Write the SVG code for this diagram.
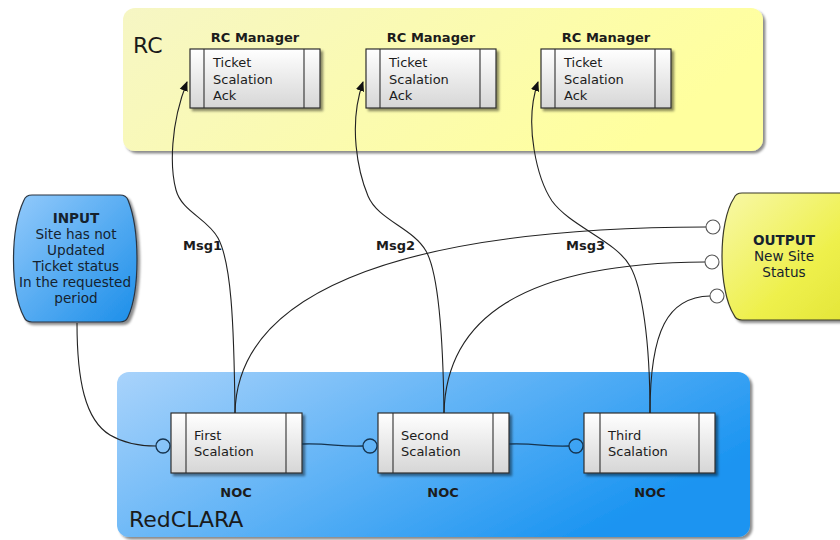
<svg xmlns="http://www.w3.org/2000/svg" width="840" height="540" viewBox="0 0 840 540">
  <defs>
    <linearGradient id="gRC" x1="0" y1="0" x2="1" y2="0.3">
      <stop offset="0" stop-color="#f6f6c4"/>
      <stop offset="1" stop-color="#ffff9e"/>
    </linearGradient>
    <linearGradient id="gNet" x1="0" y1="0" x2="1" y2="0.5">
      <stop offset="0" stop-color="#a9d3fb"/>
      <stop offset="1" stop-color="#1a94f1"/>
    </linearGradient>
    <linearGradient id="gIn" x1="0" y1="0" x2="1" y2="1">
      <stop offset="0" stop-color="#93cafb"/>
      <stop offset="1" stop-color="#1b8ee9"/>
    </linearGradient>
    <linearGradient id="gOut" x1="0" y1="0" x2="1" y2="1">
      <stop offset="0" stop-color="#f8f8a8"/>
      <stop offset="0.6" stop-color="#eef04c"/>
      <stop offset="1" stop-color="#e2e436"/>
    </linearGradient>
    <linearGradient id="gBox" x1="0" y1="0" x2="0" y2="1">
      <stop offset="0" stop-color="#ffffff"/>
      <stop offset="1" stop-color="#d6d6d6"/>
    </linearGradient>
    <filter id="shadow" x="-10%" y="-10%" width="130%" height="130%">
      <feDropShadow dx="2.5" dy="2.5" stdDeviation="1.2" flood-color="#000" flood-opacity="0.45"/>
    </filter>
    <marker id="arrow" viewBox="0 0 10 10" refX="9" refY="5" markerWidth="10" markerHeight="10" markerUnits="userSpaceOnUse" orient="auto">
      <path d="M0,0.8 L10,5 L0,9.2 Z" fill="#111"/>
    </marker>
  </defs>
  <style>
    text { font-family: "DejaVu Sans", "Liberation Sans", sans-serif; fill: #1c1c1c; }
    .title { font-size: 22px; fill: #1a1a1a; }
    .lbl { font-size: 13px; font-weight: bold; text-anchor: middle; }
    .body { font-size: 13px; }
    .term { font-size: 13.6px; text-anchor: middle; fill: #15222e; }
    .term-h { font-size: 13.6px; font-weight: bold; text-anchor: middle; fill: #15222e; }
    .msg { font-size: 13px; font-weight: bold; }
    .box { fill: url(#gBox); stroke: #2f2f2f; stroke-width: 1.2; }
    .div { stroke: #2f2f2f; stroke-width: 1.1; }
    .wire { fill: none; stroke: #222; stroke-width: 1.1; }
    .wire-n { fill: none; stroke: #16344f; stroke-width: 1.3; }
    .port { fill: none; stroke: #16344f; stroke-width: 1.3; }
    .port-o { fill: #ffffff; stroke: #555; stroke-width: 1.1; }
  </style>

  <!-- containers -->
  <g id="rc-area">
    <rect x="123" y="8" width="640" height="143" rx="12" fill="url(#gRC)" filter="url(#shadow)"/>
    <text class="title" x="133" y="53">RC</text>
  </g>
  <g id="redclara-area">
    <rect x="117" y="372" width="633" height="165" rx="12" fill="url(#gNet)" filter="url(#shadow)"/>
    <text class="title" x="129" y="527">RedCLARA</text>
  </g>

  <!-- RC managers -->
  <g id="rc-manager-1">
    <text class="lbl" x="255" y="42">RC Manager</text>
    <rect class="box" x="190" y="49" width="130" height="59" filter="url(#shadow)"/>
    <line class="div" x1="204" y1="49" x2="204" y2="108"/>
    <line class="div" x1="304" y1="49" x2="304" y2="108"/>
    <text class="body" x="213" y="67">Ticket</text>
    <text class="body" x="213" y="84">Scalation</text>
    <text class="body" x="213" y="100">Ack</text>
  </g>
  <g id="rc-manager-2">
    <text class="lbl" x="431" y="42">RC Manager</text>
    <rect class="box" x="366" y="49" width="130" height="59" filter="url(#shadow)"/>
    <line class="div" x1="380" y1="49" x2="380" y2="108"/>
    <line class="div" x1="480" y1="49" x2="480" y2="108"/>
    <text class="body" x="389" y="67">Ticket</text>
    <text class="body" x="389" y="84">Scalation</text>
    <text class="body" x="389" y="100">Ack</text>
  </g>
  <g id="rc-manager-3">
    <text class="lbl" x="606" y="42">RC Manager</text>
    <rect class="box" x="541" y="49" width="130" height="59" filter="url(#shadow)"/>
    <line class="div" x1="555" y1="49" x2="555" y2="108"/>
    <line class="div" x1="655" y1="49" x2="655" y2="108"/>
    <text class="body" x="564" y="67">Ticket</text>
    <text class="body" x="564" y="84">Scalation</text>
    <text class="body" x="564" y="100">Ack</text>
  </g>

  <!-- input / output terminals -->
  <g id="input">
    <path d="M32,195 H120 Q126,195 128,200 C140,230 140,290 128,317 Q126,322 120,322 H32 Q26,322 24,317 C10,290 10,230 24,200 Q26,195 32,195 Z" fill="url(#gIn)" stroke="#2a3440" stroke-width="1.2" filter="url(#shadow)"/>
    <text class="term-h" x="76" y="223">INPUT</text>
    <text class="term" x="76" y="239">Site has not</text>
    <text class="term" x="76" y="255">Updated</text>
    <text class="term" x="76" y="271">Ticket status</text>
    <text class="term" x="75" y="287">In the requested</text>
    <text class="term" x="76" y="303">period</text>
  </g>
  <g id="output">
    <path d="M742,193 H860 V320 H742 Q736,320 734,315 C718,290 718,222 734,198 Q736,193 742,193 Z" fill="url(#gOut)" stroke="#3a3a2a" stroke-width="1.2" filter="url(#shadow)"/>
    <text class="term-h" x="784" y="245">OUTPUT</text>
    <text class="term" x="784" y="261">New Site</text>
    <text class="term" x="784" y="277">Status</text>
  </g>

  <!-- escalation steps -->
  <g id="first-scalation">
    <rect class="box" x="171" y="413" width="131" height="60" filter="url(#shadow)"/>
    <line class="div" x1="186" y1="413" x2="186" y2="473"/>
    <line class="div" x1="286" y1="413" x2="286" y2="473"/>
    <text class="body" x="194" y="440">First</text>
    <text class="body" x="194" y="456">Scalation</text>
    <text class="lbl" x="236" y="497">NOC</text>
  </g>
  <g id="second-scalation">
    <rect class="box" x="378" y="413" width="131" height="60" filter="url(#shadow)"/>
    <line class="div" x1="393" y1="413" x2="393" y2="473"/>
    <line class="div" x1="493" y1="413" x2="493" y2="473"/>
    <text class="body" x="401" y="440">Second</text>
    <text class="body" x="401" y="456">Scalation</text>
    <text class="lbl" x="443" y="497">NOC</text>
  </g>
  <g id="third-scalation">
    <rect class="box" x="584" y="413" width="131" height="60" filter="url(#shadow)"/>
    <line class="div" x1="600" y1="413" x2="600" y2="473"/>
    <line class="div" x1="699" y1="413" x2="699" y2="473"/>
    <text class="body" x="608" y="440">Third</text>
    <text class="body" x="608" y="456">Scalation</text>
    <text class="lbl" x="650" y="497">NOC</text>
  </g>

  <!-- connectors -->
  <g id="connectors">
    <!-- input into the first step -->
    <path class="wire" d="M77,323 C77,380 85,420 110,435 C125,444 140,446 156,446"/>
    <circle class="port" cx="163" cy="446" r="7"/>
    <!-- step chain -->
    <path class="wire-n" d="M302,444 C330,443 338,447 363,446"/>
    <circle class="port" cx="370" cy="446" r="7"/>
    <path class="wire-n" d="M509,444 C537,443 545,447 569,446"/>
    <circle class="port" cx="576" cy="446" r="7"/>

    <!-- messages up to the RC managers -->
    <path class="wire" marker-end="url(#arrow)" d="M235,413 C234,320 231,262 218,238 C207,218 182,212 176,190 C170,168 170,125 187,82"/>
    <path class="wire" marker-end="url(#arrow)" d="M444,413 C443,330 438,272 426,251 C413,228 378,220 368,196 C358,172 348,125 363,82"/>
    <path class="wire" marker-end="url(#arrow)" d="M650,413 C650,340 642,287 630,266 C616,241 570,226 552,201 C538,180 523,125 538,82"/>

    <!-- status updates to the output -->
    <path class="wire" d="M235,413 C237,300 380,228 706,227"/>
    <path class="wire" d="M444,413 C446,320 520,263 705,262"/>
    <path class="wire" d="M650,413 C650,330 668,297 710,296"/>
    <circle class="port-o" cx="713" cy="227" r="7"/>
    <circle class="port-o" cx="712" cy="262" r="7"/>
    <circle class="port-o" cx="717" cy="296" r="7"/>

    <text class="msg" x="183" y="250">Msg1</text>
    <text class="msg" x="376" y="250">Msg2</text>
    <text class="msg" x="566" y="250">Msg3</text>
  </g>
</svg>
